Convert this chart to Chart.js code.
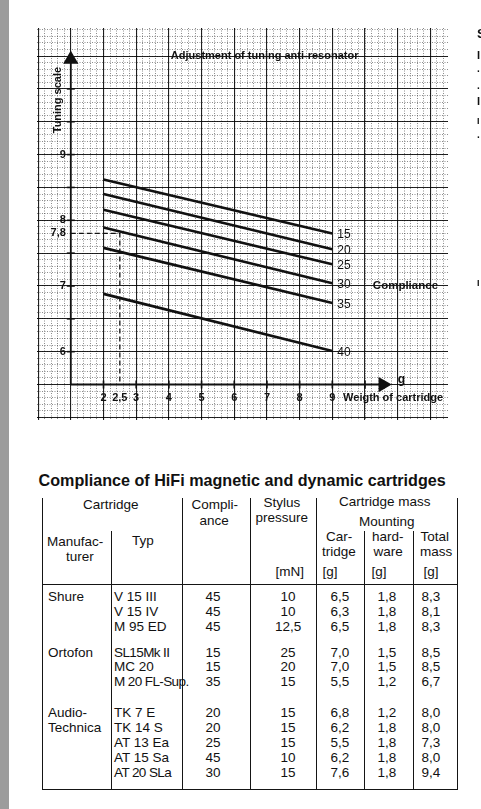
<!DOCTYPE html>
<html lang="en">
<head>
<meta charset="UTF-8">
<title>Adjustment of tuning anti-resonator</title>
<script src="https://cdn.jsdelivr.net/npm/chart.js"></script>
<style>
    html, body { margin: 0; padding: 0; background: #fff; }
    body {
        width: 481px; height: 809px; position: relative; overflow: hidden;
        font-family: "Liberation Sans", Arial, sans-serif; color: #111;
    }
    .edge { position: absolute; left: 0; top: 0; width: 9px; height: 809px; background: #9c9c9c; }
    #chartBox { position: absolute; left: 0; top: 0; width: 481px; height: 430px; }
    .t { position: absolute; white-space: nowrap; line-height: 1; font-size: 13.5px; }
    .ln { position: absolute; background: #151515; }
</style>
</head>
<body>
<div class="edge"></div>
<div id="chartBox"><canvas id="tuning"></canvas></div>

<script>
// chart data
const weights = [2, 9];                 // g, start and end of each compliance line
const c15 = [8.62, 7.80];
const c20 = [8.40, 7.56];
const c25 = [8.16, 7.33];
const c30 = [7.89, 7.04];
const c35 = [7.58, 6.74];
const c40 = [6.88, 6.01];
const complianceNames = ['15', '20', '25', '30', '35', '40'];

const xTickValues = [2, 2.5, 3, 4, 5, 6, 7, 8, 9];
const xTickLabels = ['2', '2,5', '3', '4', '5', '6', '7', '8', '9'];
const yTickValues = [6, 7, 7.8, 8, 9];
const yTickLabels = ['6', '7', '7,8', '8', '9'];
const xAxisMarks = [2, 3, 4, 5, 6, 7, 8, 9, 10];
const yAxisMarks = [6, 6.5, 7, 7.5, 8, 8.5, 9, 9.5, 10];
const exampleWeight = 2.5;
const exampleTuning = 7.8;

// table data
const manufacturers = ['Shure', 'Ortofon', 'Audio-', 'Technica'];
const types = ['V 15 III', 'V 15 IV', 'M 95 ED', 'SL15Mk II', 'MC 20', 'M 20 FL-Sup.',
               'TK 7 E', 'TK 14 S', 'AT 13 Ea', 'AT 15 Sa', 'AT 20 SLa'];
const compliance = ['45', '45', '45', '15', '15', '35', '20', '20', '25', '45', '30'];
const stylusPressure = ['10', '10', '12,5', '25', '20', '15', '15', '15', '15', '10', '15'];
const cartridgeMass = ['6,5', '6,3', '6,5', '7,0', '7,0', '5,5', '6,8', '6,2', '5,5', '6,2', '7,6'];
const hardwareMass = ['1,8', '1,8', '1,8', '1,5', '1,5', '1,2', '1,2', '1,8', '1,8', '1,8', '1,8'];
const totalMass = ['8,3', '8,1', '8,3', '8,5', '8,5', '6,7', '8,0', '8,0', '7,3', '8,0', '9,4'];

const FONT = '"Liberation Sans", Arial, sans-serif';

function pts(xs, ys) {
    return xs.map((v, i) => ({ x: v, y: ys[i] }));
}
function steps(from, to, step) {
    const out = [];
    for (let i = 0; from + i * step <= to + 1e-9; i++) out.push(+(from + i * step).toFixed(3));
    return out;
}

const series = [c15, c20, c25, c30, c35, c40];
const datasets = series.map((s, i) => ({
    label: complianceNames[i],
    data: pts(weights, s),
    borderColor: '#111',
    borderWidth: 2.6,
    pointRadius: 0
}));

// axes with arrows
datasets.push({
    data: [{ x: 1, y: 5.5 }, { x: 1, y: 10.45 }],
    borderColor: '#111', borderWidth: 1.8,
    pointRadius: [0, 7], pointStyle: 'triangle', pointRotation: 0,
    pointBackgroundColor: '#111', pointBorderColor: '#111'
});
datasets.push({
    data: [{ x: 1, y: 5.5 }, { x: 10.55, y: 5.5 }],
    borderColor: '#111', borderWidth: 1.8,
    pointRadius: [0, 7], pointStyle: 'triangle', pointRotation: 90,
    pointBackgroundColor: '#111', pointBorderColor: '#111'
});
// tick marks on the axes
datasets.push({
    data: yAxisMarks.map(v => ({ x: 1, y: v })),
    showLine: false, pointStyle: 'line', pointRadius: 4,
    pointBorderColor: '#111', pointBorderWidth: 1.6
});
datasets.push({
    data: xAxisMarks.map(v => ({ x: v, y: 5.5 })),
    showLine: false, pointStyle: 'line', pointRadius: 4, pointRotation: 90,
    pointBorderColor: '#111', pointBorderWidth: 1.6
});
// dashed reading example
datasets.push({
    data: [{ x: 1, y: exampleTuning }, { x: exampleWeight, y: exampleTuning }, { x: exampleWeight, y: 5.5 }],
    borderColor: '#111', borderWidth: 1.3, borderDash: [5, 3], pointRadius: 0
});

const paperText = {
    id: 'paperText',
    afterDatasetsDraw(chart) {
        const { ctx, scales: { x, y } } = chart;
        const x0 = x.getPixelForValue(1);
        const y0 = y.getPixelForValue(5.5);
        ctx.save();
        ctx.fillStyle = '#111';
        ctx.textBaseline = 'middle';

        ctx.font = 'bold 11px ' + FONT;
        ctx.textAlign = 'right';
        yTickValues.forEach((v, i) => ctx.fillText(yTickLabels[i], x0 - 5, y.getPixelForValue(v)));

        ctx.textAlign = 'center';
        xTickValues.forEach((v, i) => ctx.fillText(xTickLabels[i], x.getPixelForValue(v), y0 + 13));

        ctx.font = '12px ' + FONT;
        ctx.textAlign = 'left';
        series.forEach((s, i) => ctx.fillText(complianceNames[i], x.getPixelForValue(9) + 5, y.getPixelForValue(s[1]) + 1.5));

        ctx.font = 'bold 11.5px ' + FONT;
        ctx.fillText('Compliance', x.getPixelForValue(10.24), y.getPixelForValue(7));
        ctx.font = 'bold 12px ' + FONT;
        ctx.fillText('g', x.getPixelForValue(11.0), y.getPixelForValue(5.57));
        ctx.font = 'bold 11px ' + FONT;
        ctx.fillText('Weigth of cartridge', x.getPixelForValue(9.33), y0 + 13);

        ctx.textAlign = 'center';
        ctx.fillText('Adjustment of tuning anti-resonator', x.getPixelForValue(6.93), y.getPixelForValue(10.5));

        ctx.translate(x0 - 13, y.getPixelForValue(9.83));
        ctx.rotate(-Math.PI / 2);
        ctx.fillText('Tuning scale', 0, 0);
        ctx.restore();
    }
};

const gridScale = (axis, min, max, ticks, color, width, dash) => ({
    type: 'linear', axis: axis, min: min, max: max,
    position: axis === 'x' ? 'bottom' : 'left',
    ticks: { display: false },
    border: { display: false, dash: dash },
    grid: { color: color, lineWidth: width, drawTicks: false },
    afterBuildTicks: s => { s.ticks = ticks.map(v => ({ value: v })); }
});

new Chart(document.getElementById('tuning'), {
    type: 'line',
    data: { datasets: datasets },
    options: {
        responsive: true,
        maintainAspectRatio: false,
        animation: false,
        layout: { padding: { left: 37, top: 28, right: 33, bottom: 10 } },
        plugins: { legend: { display: false }, tooltip: { enabled: false } },
        scales: {
            xMinor: gridScale('x', -0.034, 12.539, steps(0, 12.4, 0.2), 'rgba(0,0,0,0.45)', 1, [1, 1.5]),
            yMinor: gridScale('y', 4.96, 10.927, steps(5, 10.9, 0.1), 'rgba(0,0,0,0.45)', 1, [1, 1.5]),
            x: gridScale('x', -0.034, 12.539, steps(0, 12, 1), 'rgba(0,0,0,0.85)', 1.1),
            y: gridScale('y', 4.96, 10.927, steps(5, 10.5, 0.5), 'rgba(0,0,0,0.85)', 1.1)
        }
    },
    plugins: [paperText]
});

// ---- table below the chart ----
function put(text, x, y, align, font) {
    const d = document.createElement('div');
    d.className = 't';
    d.textContent = text;
    if (font) d.style.font = font;
    document.body.appendChild(d);
    const w = d.offsetWidth, h = d.offsetHeight;
    let left = x;
    if (align === 'center') left = x - w / 2;
    if (align === 'right') left = x - w;
    d.style.left = left + 'px';
    d.style.top = (y - h / 2) + 'px';
    return d;
}
function rule(left, top, width, height) {
    const d = document.createElement('div');
    d.className = 'ln';
    d.style.left = left + 'px';
    d.style.top = top + 'px';
    d.style.width = width + 'px';
    d.style.height = height + 'px';
    document.body.appendChild(d);
}

const title = put('Compliance of HiFi magnetic and dynamic cartridges', 241.5, 480, 'center', 'bold 16.5px ' + FONT);
title.style.transformOrigin = 'center';
title.style.transform = 'scaleX(' + (407 / title.offsetWidth) + ')';

// frame
const top0 = 498, top1 = 531, head = 584, bottom = 789, lw = 1.3;
const leftX = 41.5, rightX = 456.5;
rule(leftX, top0, lw, bottom - top0 + lw);
rule(rightX, top0, lw, bottom - top0 + lw);
rule(leftX, bottom, rightX - leftX + lw, lw);
rule(leftX, head, rightX - leftX + lw, lw);
[182, 249.5, 316].forEach(cx => rule(cx, top0, lw, bottom - top0));
[111, 364, 413].forEach(cx => rule(cx, top1, lw, bottom - top1));

const headers = [
    ['Cartridge', 111, 505], ['Compli-', 215, 505], ['ance', 214, 520.5],
    ['Stylus', 282, 503], ['pressure', 282, 518], ['Cartridge mass', 385, 502],
    ['Mounting', 387, 521.5],
    ['Car-', 339, 536.5], ['tridge', 339, 551.5],
    ['hard-', 388, 536.5], ['ware', 388, 551.5],
    ['Total', 435, 536.5], ['mass', 436, 551.5],
    ['Manufac-', 75, 541.5], ['turer', 80, 556.5], ['Typ', 143, 540.5],
    ['[mN]', 290, 571.5], ['[g]', 330, 571.5], ['[g]', 379, 571.5], ['[g]', 431, 571.5]
];
headers.forEach(h => put(h[0], h[1], h[2], 'center'));

const rowY = [597, 612, 627, 653, 667, 682, 713, 728, 743, 758, 773];
const manuY = [597, 653, 713, 728];
manufacturers.forEach((m, i) => put(m, 48, manuY[i], 'left'));
types.forEach((t, i) => {
    const d = put(t, 114, rowY[i], 'left');
    if (t.length > 8) d.style.letterSpacing = '-0.6px';
});
rowY.forEach((yy, i) => {
    put(compliance[i], 213, yy, 'center');
    put(stylusPressure[i], 288, yy, 'center');
    put(cartridgeMass[i], 340, yy, 'center');
    put(hardwareMass[i], 387, yy, 'center');
    put(totalMass[i], 431, yy, 'center');
});

// cut-off text of the neighbouring column
[['S', 33, 'bold 13px'], ['I', 55, 'bold 11px'], ['I', 101, 'bold 11px'], ['I', 121, 'bold 9px'],
 ['·', 71, 'bold 10px'], ['·', 88, 'bold 10px'], ['·', 137, 'bold 10px'], ['I', 283, 'bold 9px']]
    .forEach(f => put(f[0], 477, f[1], 'left', f[2] + ' ' + FONT));
</script>
</body>
</html>
